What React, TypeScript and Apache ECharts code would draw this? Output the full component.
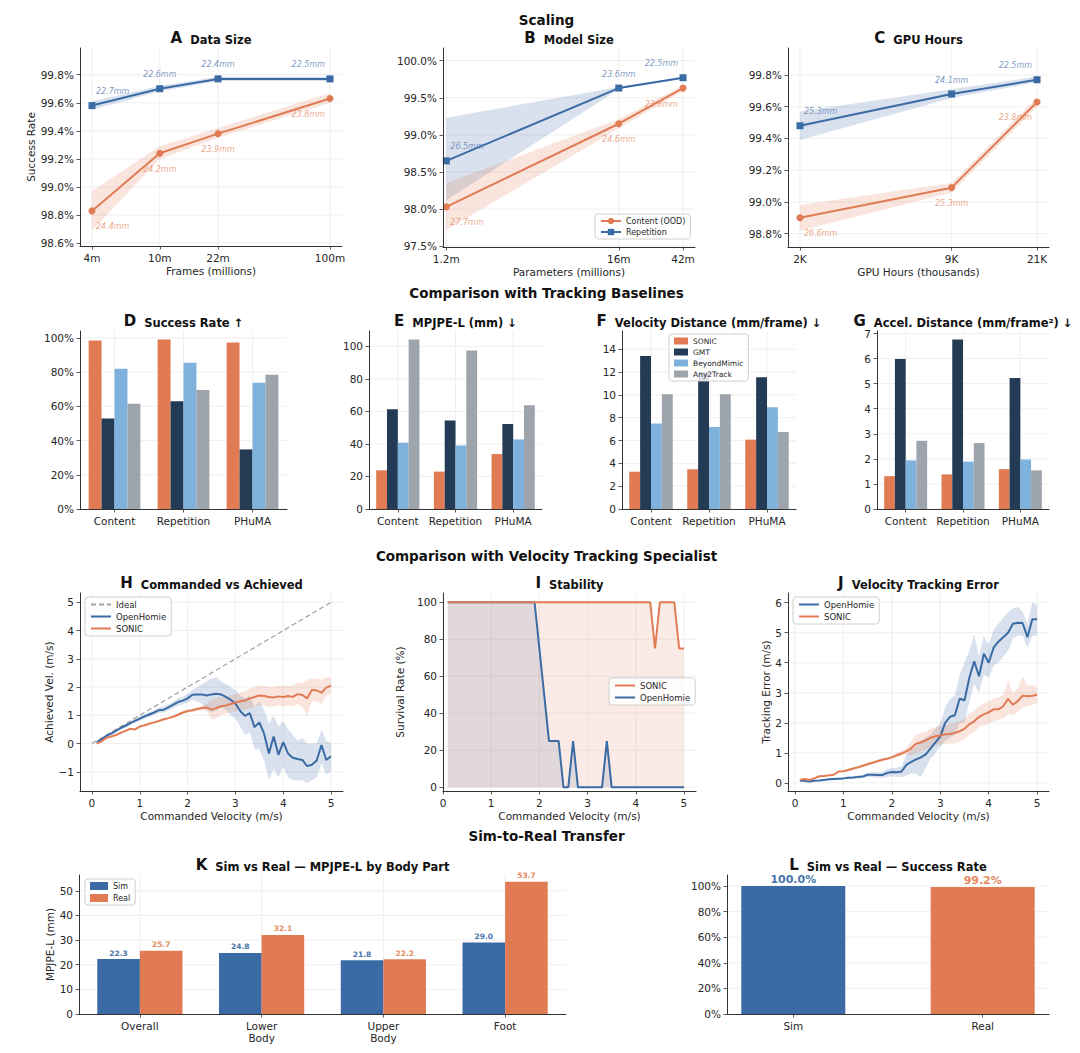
import React, { useEffect, useRef } from "react";
import * as echarts from "echarts";

// ---------- DATA ----------
// Panel A: data size
const A_FRAMES = [4, 10, 22, 100];
const A_LABELS = ["4m", "10m", "22m", "100m"];
const A_REP = [99.58, 99.7, 99.77, 99.77];
const A_REP_LO = [99.55, 99.68, 99.755, 99.755];
const A_REP_HI = [99.61, 99.72, 99.785, 99.785];
const A_REP_MM = ["22.7mm", "22.6mm", "22.4mm", "22.5mm"];
const A_CON = [98.83, 99.24, 99.38, 99.63];
const A_CON_LO = [98.69, 99.2, 99.35, 99.6];
const A_CON_HI = [98.97, 99.29, 99.42, 99.67];
const A_CON_MM = ["24.4mm", "24.2mm", "23.9mm", "23.8mm"];
const A_YTICKS = [98.6, 98.8, 99.0, 99.2, 99.4, 99.6, 99.8];

// Panel B: model size
const B_PARAMS = [1.2, 16, 42];
const B_LABELS = ["1.2m", "16m", "42m"];
const B_REP = [98.65, 99.63, 99.77];
const B_REP_LO = [98.12, 99.615, 99.76];
const B_REP_HI = [99.23, 99.645, 99.78];
const B_REP_MM = ["26.5mm", "23.6mm", "22.5mm"];
const B_CON = [98.03, 99.15, 99.63];
const B_CON_LO = [97.72, 99.09, 99.59];
const B_CON_HI = [98.35, 99.21, 99.67];
const B_CON_MM = ["27.7mm", "24.6mm", "23.8mm"];
const B_YTICKS = [97.5, 98.0, 98.5, 99.0, 99.5, 100.0];

// Panel C: GPU hours
const C_GPU = [2, 9, 21];
const C_LABELS = ["2K", "9K", "21K"];
const C_REP = [99.48, 99.68, 99.77];
const C_REP_LO = [99.39, 99.655, 99.755];
const C_REP_HI = [99.57, 99.71, 99.79];
const C_REP_MM = ["25.3mm", "24.1mm", "22.5mm"];
const C_CON = [98.9, 99.09, 99.63];
const C_CON_LO = [98.82, 99.06, 99.6];
const C_CON_HI = [98.98, 99.12, 99.66];
const C_CON_MM = ["26.6mm", "25.3mm", "23.8mm"];
const C_YTICKS = [98.8, 99.0, 99.2, 99.4, 99.6, 99.8];

// Tracking baselines
const METHODS = ["SONIC", "GMT", "BeyondMimic", "Any2Track"];
const BENCH = ["Content", "Repetition", "PHuMA"];
const D_SONIC = [98.4, 99.0, 97.3];
const D_GMT = [52.9, 63.0, 34.8];
const D_BM = [81.9, 85.4, 73.7];
const D_A2T = [61.5, 69.5, 78.4];
const D_TICKS = [0, 20, 40, 60, 80, 100];
const E_SONIC = [23.8, 23.0, 33.8];
const E_GMT = [61.3, 54.5, 52.3];
const E_BM = [40.8, 39.1, 42.8];
const E_A2T = [104.3, 97.5, 63.9];
const E_TICKS = [0, 20, 40, 60, 80, 100];
const F_SONIC = [3.27, 3.48, 6.08];
const F_GMT = [13.4, 12.0, 11.55];
const F_BM = [7.5, 7.19, 8.92];
const F_A2T = [10.05, 10.06, 6.75];
const F_TICKS = [0, 2, 4, 6, 8, 10, 12, 14];
const G_SONIC = [1.31, 1.38, 1.59];
const G_GMT = [5.98, 6.76, 5.23];
const G_BM = [1.94, 1.89, 1.97];
const G_A2T = [2.72, 2.63, 1.54];
const G_TICKS = [0, 1, 2, 3, 4, 5, 6, 7];

// Velocity tracking
const VEL_X = [0.1, 0.2, 0.3, 0.4, 0.5, 0.6, 0.7, 0.8, 0.9, 1.0, 1.1, 1.2, 1.3, 1.4, 1.5, 1.6, 1.7, 1.8, 1.9, 2.0, 2.1, 2.2, 2.3, 2.4, 2.5, 2.6, 2.7, 2.8, 2.9, 3.0, 3.1, 3.2, 3.3, 3.4, 3.5, 3.6, 3.7, 3.8, 3.9, 4.0, 4.1, 4.2, 4.3, 4.4, 4.5, 4.6, 4.7, 4.8, 4.9, 5.0];
const VEL_TICKS = [0, 1, 2, 3, 4, 5];
const IDEAL_X = [0, 5];
const IDEAL_Y = [0, 5];
const H_OPEN = [0.05, 0.15, 0.27, 0.35, 0.45, 0.55, 0.63, 0.72, 0.8, 0.88, 0.96, 1.03, 1.1, 1.18, 1.2, 1.28, 1.38, 1.47, 1.52, 1.6, 1.73, 1.74, 1.74, 1.7, 1.74, 1.76, 1.74, 1.65, 1.55, 1.42, 1.15, 0.98, 1.08, 0.58, 0.75, 0.35, -0.35, 0.25, -0.4, 0.05, -0.35, -0.5, -0.55, -0.58, -0.8, -0.75, -0.6, -0.05, -0.58, -0.45];
const H_OPEN_LO = [0.02, 0.11, 0.22, 0.3, 0.4, 0.49, 0.57, 0.66, 0.73, 0.81, 0.88, 0.95, 1.01, 1.08, 1.1, 1.17, 1.26, 1.34, 1.38, 1.45, 1.55, 1.5, 1.4, 1.2, 1.1, 1.2, 1.3, 1.2, 1.0, 0.9, 0.6, 0.3, 0.4, -0.2, -0.2, -0.6, -1.3, -0.9, -1.2, -0.8, -1.2, -1.3, -1.3, -1.3, -1.4, -1.3, -1.2, -0.7, -1.1, -1.0];
const H_OPEN_HI = [0.08, 0.19, 0.32, 0.4, 0.5, 0.61, 0.69, 0.78, 0.87, 0.95, 1.04, 1.11, 1.19, 1.28, 1.3, 1.39, 1.5, 1.6, 1.66, 1.75, 1.9, 2.0, 2.1, 2.2, 2.3, 2.35, 2.2, 2.1, 2.0, 1.9, 1.7, 1.6, 1.7, 1.3, 1.5, 1.2, 0.7, 1.0, 0.6, 0.8, 0.5, 0.3, 0.1, 0.2, 0.0, 0.0, 0.0, 0.5, 0.1, 0.0];
const H_SONIC = [0.0, 0.08, 0.2, 0.25, 0.3, 0.38, 0.45, 0.52, 0.5, 0.6, 0.65, 0.7, 0.75, 0.8, 0.86, 0.9, 0.95, 1.02, 1.1, 1.15, 1.18, 1.22, 1.26, 1.28, 1.2, 1.25, 1.32, 1.35, 1.4, 1.45, 1.5, 1.52, 1.6, 1.65, 1.7, 1.68, 1.65, 1.63, 1.67, 1.65, 1.68, 1.65, 1.75, 1.72, 1.6, 1.9, 1.88, 1.8, 1.98, 2.05];
const H_SONIC_LO = [-0.03, 0.05, 0.17, 0.22, 0.27, 0.35, 0.42, 0.49, 0.47, 0.57, 0.62, 0.67, 0.72, 0.77, 0.82, 0.86, 0.91, 0.98, 1.05, 1.1, 1.12, 1.15, 1.18, 1.15, 0.85, 0.9, 1.0, 1.05, 1.1, 1.15, 1.2, 1.2, 1.25, 1.3, 1.35, 1.35, 1.3, 1.3, 1.35, 1.3, 1.35, 1.3, 1.4, 1.3, 1.0, 1.5, 1.5, 1.4, 1.7, 1.75];
const H_SONIC_HI = [0.03, 0.11, 0.23, 0.28, 0.33, 0.41, 0.48, 0.55, 0.53, 0.63, 0.68, 0.73, 0.78, 0.83, 0.9, 0.94, 0.99, 1.06, 1.15, 1.2, 1.24, 1.29, 1.34, 1.4, 1.55, 1.6, 1.65, 1.65, 1.7, 1.75, 1.8, 1.85, 1.95, 2.0, 2.05, 2.05, 2.0, 2.0, 2.05, 2.05, 2.05, 2.05, 2.15, 2.15, 2.25, 2.3, 2.3, 2.25, 2.35, 2.35];
const H_YTICKS = [-1, 0, 1, 2, 3, 4, 5];

const I_OPEN = [100, 100, 100, 100, 100, 100, 100, 100, 100, 100, 100, 100, 100, 100, 100, 100, 100, 100, 100, 75, 50, 25, 25, 25, 0, 0, 25, 0, 0, 0, 0, 0, 0, 25, 0, 0, 0, 0, 0, 0, 0, 0, 0, 0, 0, 0, 0, 0, 0, 0];
const I_SONIC = [100, 100, 100, 100, 100, 100, 100, 100, 100, 100, 100, 100, 100, 100, 100, 100, 100, 100, 100, 100, 100, 100, 100, 100, 100, 100, 100, 100, 100, 100, 100, 100, 100, 100, 100, 100, 100, 100, 100, 100, 100, 100, 100, 75, 100, 100, 100, 100, 75, 75];
const I_YTICKS = [0, 20, 40, 60, 80, 100];

const J_OPEN = [0.08, 0.06, 0.05, 0.07, 0.08, 0.1, 0.12, 0.13, 0.14, 0.15, 0.17, 0.18, 0.2, 0.21, 0.27, 0.27, 0.26, 0.26, 0.33, 0.36, 0.35, 0.38, 0.6, 0.7, 0.78, 0.85, 0.95, 1.15, 1.35, 1.55, 2.0, 2.2, 2.25, 2.8, 2.75, 3.5, 4.05, 3.55, 4.3, 4.0, 4.5, 4.7, 4.85, 5.0, 5.3, 5.33, 5.32, 4.85, 5.45, 5.45];
const J_OPEN_LO = [0.06, 0.04, 0.03, 0.05, 0.06, 0.08, 0.09, 0.1, 0.11, 0.12, 0.13, 0.14, 0.15, 0.16, 0.2, 0.19, 0.17, 0.16, 0.2, 0.22, 0.2, 0.2, 0.25, 0.3, 0.3, 0.2, 0.5, 0.8, 1.0, 1.2, 1.4, 1.5, 1.6, 2.0, 2.0, 2.7, 3.3, 3.0, 3.6, 3.5, 3.9, 4.0, 4.2, 4.4, 4.8, 4.9, 4.9, 4.5, 4.9, 4.9];
const J_OPEN_HI = [0.1, 0.08, 0.07, 0.09, 0.1, 0.12, 0.15, 0.16, 0.17, 0.18, 0.21, 0.22, 0.25, 0.26, 0.34, 0.35, 0.35, 0.36, 0.46, 0.5, 0.5, 0.56, 0.95, 1.1, 1.2, 1.4, 1.5, 1.6, 1.8, 2.0, 2.5, 2.8, 2.9, 3.6, 4.0, 4.4, 4.95, 4.2, 4.9, 4.6, 5.1, 5.3, 5.5, 5.7, 5.8, 5.85, 5.7, 5.3, 6.0, 5.9];
const J_SONIC = [0.1, 0.13, 0.1, 0.15, 0.22, 0.23, 0.25, 0.27, 0.38, 0.39, 0.43, 0.48, 0.52, 0.57, 0.62, 0.67, 0.72, 0.77, 0.8, 0.85, 0.92, 0.98, 1.05, 1.15, 1.3, 1.35, 1.42, 1.5, 1.55, 1.58, 1.62, 1.63, 1.66, 1.72, 1.8, 1.95, 2.05, 2.2, 2.28, 2.35, 2.45, 2.45, 2.55, 2.8, 2.6, 2.72, 2.9, 2.88, 2.9, 2.93];
const J_SONIC_LO = [0.07, 0.1, 0.07, 0.12, 0.19, 0.2, 0.22, 0.24, 0.35, 0.36, 0.39, 0.44, 0.48, 0.52, 0.57, 0.62, 0.67, 0.72, 0.75, 0.8, 0.84, 0.9, 0.95, 0.9, 1.0, 1.05, 1.1, 1.2, 1.25, 1.28, 1.3, 1.3, 1.32, 1.38, 1.45, 1.6, 1.7, 1.85, 1.9, 1.98, 2.05, 2.1, 2.15, 2.3, 2.25, 2.35, 2.5, 2.55, 2.6, 2.65];
const J_SONIC_HI = [0.13, 0.16, 0.13, 0.18, 0.25, 0.26, 0.28, 0.3, 0.41, 0.42, 0.47, 0.52, 0.56, 0.62, 0.67, 0.72, 0.77, 0.82, 0.85, 0.9, 1.0, 1.06, 1.15, 1.4, 1.6, 1.65, 1.72, 1.8, 1.85, 1.88, 1.92, 1.95, 2.0, 2.05, 2.15, 2.3, 2.4, 2.55, 2.65, 2.7, 2.8, 2.85, 2.95, 3.4, 3.0, 3.15, 3.55, 3.25, 3.25, 3.2];
const J_YTICKS = [0, 1, 2, 3, 4, 5, 6];

// Sim-to-real
const K_PARTS = ["Overall", "Lower\nBody", "Upper\nBody", "Foot"];
const K_SIM = [22.3, 24.8, 21.8, 29.0];
const K_REAL = [25.7, 32.1, 22.2, 53.7];
const K_TICKS = [0, 10, 20, 30, 40, 50];
const L_GROUPS = ["Sim", "Real"];
const L_POS = [0, 1];
const L_RATE = [100.0, 99.2];
const L_TICKS = [0, 20, 40, 60, 80, 100];

// ---------- STYLE / LAYOUT ----------
const FONT = '"DejaVu Sans", sans-serif';
const TXT = "#262626";
const AXIS = "#333333";
const GRIDC = "#ebebeb";
const BLUE = "#3B6BA5";
const ORANGE = "#E07B54";
const BLUE_TXT = "#5A7DB0";
const ORANGE_TXT = "#E8906B";
const BAR_COLORS = ["#E07B54", "#243B55", "#7EB2DD", "#9DA4AC"];

const GRIDS = [
  { left: 80, top: 48, width: 262, height: 198 },
  { left: 443, top: 48, width: 252, height: 199 },
  { left: 788, top: 48, width: 261, height: 199 },
  { left: 80, top: 331, width: 207, height: 178 },
  { left: 369, top: 331, width: 173, height: 178 },
  { left: 622, top: 331, width: 174, height: 178 },
  { left: 877, top: 331, width: 172, height: 178 },
  { left: 80, top: 593, width: 263, height: 198 },
  { left: 443, top: 593, width: 253, height: 198 },
  { left: 788, top: 593, width: 261, height: 198 },
  { left: 79, top: 875, width: 487, height: 139 },
  { left: 727, top: 875, width: 322, height: 139 },
];

const TITLES: [string, string, number, number][] = [
  ["A", "Data Size", 211, 38],
  ["B", "Model Size", 569, 38],
  ["C", "GPU Hours", 918.5, 38],
  ["D", "Success Rate ↑", 183.5, 321],
  ["E", "MPJPE-L (mm) ↓", 455.5, 321],
  ["F", "Velocity Distance (mm/frame) ↓", 709, 321],
  ["G", "Accel. Distance (mm/frame²) ↓", 963, 321],
  ["H", "Commanded vs Achieved", 211.5, 583],
  ["I", "Stability", 569.5, 583],
  ["J", "Velocity Tracking Error", 918.5, 583],
  ["K", "Sim vs Real — MPJPE-L by Body Part", 322.5, 865],
  ["L", "Sim vs Real — Success Rate", 888, 865],
];
const SUPTITLES: [string, number][] = [
  ["Scaling", 20],
  ["Comparison with Tracking Baselines", 293],
  ["Comparison with Velocity Tracking Specialist", 556],
  ["Sim-to-Real Transfer", 836],
];

// ---------- HELPERS ----------
const axisLine = { show: true, onZero: false, lineStyle: { color: AXIS, width: 1 } };
const labelStyle = { fontSize: 10.5, color: TXT, fontFamily: FONT };
const nameStyle = { fontSize: 10.5, color: TXT, fontFamily: FONT };

function valueAxis(gi: number, min: number, max: number, ticks: number[], fmt: (v: number) => string, extra: any = {}) {
  return {
    type: "value",
    gridIndex: gi,
    min,
    max,
    z: 10,
    axisLine,
    axisTick: { show: true, length: 3.5, customValues: ticks, lineStyle: { color: AXIS, width: 0.8 } },
    axisLabel: { ...labelStyle, customValues: ticks, formatter: fmt, margin: 6 },
    splitLine: { show: false },
    nameTextStyle: nameStyle,
    nameLocation: "middle",
    ...extra,
  };
}

function catAxis(gi: number, cats: string[], extra: any = {}) {
  return {
    type: "category",
    gridIndex: gi,
    data: cats,
    z: 10,
    axisLine,
    axisTick: { show: true, length: 3.5, alignWithLabel: true, lineStyle: { color: AXIS, width: 0.8 } },
    axisLabel: { ...labelStyle, interval: 0, margin: 6, lineHeight: 12 },
    splitLine: { show: false },
    ...extra,
  };
}

function gridLines(gi: number, xVals: number[], yVals: number[], xRef: number, yRef: number, yMin: number) {
  return {
    type: "custom",
    name: "grid" + gi,
    xAxisIndex: gi,
    yAxisIndex: gi,
    z: 0,
    silent: true,
    data: [[xRef, yRef]],
    renderItem: (params: any, api: any) => {
      const cs = params.coordSys;
      const children: any[] = [];
      yVals.forEach((v) => {
        if (v <= yMin) return;
        const p = api.coord([xRef, v]);
        children.push({ type: "line", shape: { x1: cs.x, y1: p[1], x2: cs.x + cs.width, y2: p[1] }, style: { stroke: GRIDC, lineWidth: 0.8 } });
      });
      xVals.forEach((v) => {
        const p = api.coord([v, yRef]);
        children.push({ type: "line", shape: { x1: p[0], y1: cs.y, x2: p[0], y2: cs.y + cs.height }, style: { stroke: GRIDC, lineWidth: 0.8 } });
      });
      return { type: "group", children };
    },
  };
}

function band(gi: number, xs: number[], lo: number[], hi: number[], color: string, opacity: number, name: string) {
  return {
    type: "custom",
    name,
    xAxisIndex: gi,
    yAxisIndex: gi,
    z: 1,
    silent: true,
    data: [[xs[0], lo[0]]],
    renderItem: (_params: any, api: any) => {
      const pts: number[][] = [];
      for (let i = 0; i < xs.length; i++) pts.push(api.coord([xs[i], hi[i]]));
      for (let i = xs.length - 1; i >= 0; i--) pts.push(api.coord([xs[i], lo[i]]));
      return { type: "polygon", shape: { points: pts }, style: { fill: color, opacity } };
    },
  };
}

function mmLabels(gi: number, xs: number[], ys: number[], texts: string[], color: string, above: boolean, name: string) {
  const n = xs.length;
  return {
    type: "scatter",
    name,
    xAxisIndex: gi,
    yAxisIndex: gi,
    symbolSize: 1,
    silent: true,
    z: 5,
    itemStyle: { color: "rgba(0,0,0,0)" },
    label: { show: true, color, fontSize: 8, fontStyle: "italic", fontFamily: FONT, verticalAlign: "middle" },
    data: xs.map((x, i) => ({
      value: [x, ys[i]],
      label: {
        show: true,
        position: "inside",
        formatter: texts[i],
        align: i === 0 ? "left" : i === n - 1 ? "right" : "center",
        offset: [i === 0 ? 4 : i === n - 1 ? -5 : 0, above ? -14 : 16],
      },
    })),
  };
}

function scalingSeries(gi: number, xs: number[], rep: number[], repLo: number[], repHi: number[], repMm: string[], con: number[], conLo: number[], conHi: number[], conMm: string[]) {
  return [
    band(gi, xs, repLo, repHi, BLUE, 0.2, "bandRep" + gi),
    band(gi, xs, conLo, conHi, ORANGE, 0.2, "bandCon" + gi),
    {
      type: "line",
      name: "Content (OOD)",
      xAxisIndex: gi,
      yAxisIndex: gi,
      z: 3,
      data: xs.map((x, i) => [x, con[i]]),
      symbol: "circle",
      symbolSize: 7,
      showSymbol: true,
      lineStyle: { color: ORANGE, width: 2 },
      itemStyle: { color: ORANGE },
    },
    {
      type: "line",
      name: "Repetition",
      xAxisIndex: gi,
      yAxisIndex: gi,
      z: 3,
      data: xs.map((x, i) => [x, rep[i]]),
      symbol: "rect",
      symbolSize: 7,
      showSymbol: true,
      lineStyle: { color: BLUE, width: 2 },
      itemStyle: { color: BLUE },
    },
    mmLabels(gi, xs, rep, repMm, BLUE_TXT, true, "lblRep" + gi),
    mmLabels(gi, xs, con, conMm, ORANGE_TXT, false, "lblCon" + gi),
  ];
}

function barSeries(gi: number, arrays: number[][]) {
  return arrays.map((arr, i) => ({
    type: "bar",
    name: METHODS[i],
    xAxisIndex: gi,
    yAxisIndex: gi,
    z: 2,
    data: arr,
    barGap: "0%",
    barCategoryGap: "25%",
    itemStyle: { color: BAR_COLORS[i] },
  }));
}

const legendBase = {
  orient: "vertical",
  selectedMode: false,
  backgroundColor: "rgba(255,255,255,0.85)",
  borderColor: "#d0d0d0",
  borderWidth: 1,
  borderRadius: 3,
  padding: [3, 5],
  itemGap: 3,
  itemWidth: 20,
  itemHeight: 8,
  textStyle: { fontSize: 8, color: TXT, fontFamily: FONT },
};

const lineOnlyLegend = {
  ...legendBase,
  itemStyle: { opacity: 0 },
  textStyle: { fontSize: 8.5, color: TXT, fontFamily: FONT },
};

function velLine(gi: number, name: string, ys: number[], color: string, area: boolean) {
  return {
    type: "line",
    name,
    xAxisIndex: gi,
    yAxisIndex: gi,
    z: 3,
    data: VEL_X.map((x, i) => [x, ys[i]]),
    symbol: "none",
    showSymbol: false,
    lineStyle: { color, width: 2 },
    itemStyle: { color },
    ...(area ? { areaStyle: { color, opacity: 0.15, origin: "auto" } } : {}),
  };
}

function buildOption() {
  const lg = Math.log10;
  const aX = A_FRAMES.map(lg);
  const bX = B_PARAMS.map(lg);
  const cX = C_GPU.map(lg);
  const pct1 = (v: number) => v.toFixed(1) + "%";
  const pct0 = (v: number) => Math.round(v) + "%";
  const num = (v: number) => String(Math.round(v));
  const logFmt = (xs: number[], labels: string[]) => (v: number) => {
    const i = xs.findIndex((x) => Math.abs(x - v) < 1e-6);
    return i >= 0 ? labels[i] : "";
  };

  const xAxis: any[] = [
    valueAxis(0, aX[0] - 0.0705, aX[3] + 0.0705, aX, logFmt(aX, A_LABELS), { name: "Frames (millions)", nameGap: 19 }),
    valueAxis(1, bX[0] - 0.0215, bX[2] + 0.078, bX, logFmt(bX, B_LABELS), { name: "Parameters (millions)", nameGap: 19 }),
    valueAxis(2, cX[0] - 0.0515, cX[2] + 0.0515, cX, logFmt(cX, C_LABELS), { name: "GPU Hours (thousands)", nameGap: 19 }),
    catAxis(3, BENCH),
    catAxis(4, BENCH),
    catAxis(5, BENCH),
    catAxis(6, BENCH),
    valueAxis(7, -0.25, 5.25, VEL_TICKS, num, { name: "Commanded Velocity (m/s)", nameGap: 19 }),
    valueAxis(8, 0, 5.25, VEL_TICKS, num, { name: "Commanded Velocity (m/s)", nameGap: 19 }),
    valueAxis(9, -0.145, 5.245, VEL_TICKS, num, { name: "Commanded Velocity (m/s)", nameGap: 19 }),
    catAxis(10, K_PARTS),
    valueAxis(11, -0.35, 1.35, L_POS, (v: number) => L_GROUPS[Math.round(v)] ?? ""),
  ];
  const yAxis: any[] = [
    valueAxis(0, 98.58, 99.99, A_YTICKS, pct1, { name: "Success Rate", nameGap: 43 }),
    valueAxis(1, 97.49, 100.17, B_YTICKS, pct1),
    valueAxis(2, 98.716, 99.97, C_YTICKS, pct1),
    valueAxis(3, 0, 104, D_TICKS, pct0),
    valueAxis(4, 0, 109.5, E_TICKS, num),
    valueAxis(5, 0, 15.6, F_TICKS, num),
    valueAxis(6, 0, 7.1, G_TICKS, num),
    valueAxis(7, -1.68, 5.33, H_YTICKS, (v: number) => (v < 0 ? "\u2212" + Math.abs(v) : String(v)), { name: "Achieved Vel. (m/s)", nameGap: 24 }),
    valueAxis(8, -2, 105, I_YTICKS, num, { name: "Survival Rate (%)", nameGap: 38 }),
    valueAxis(9, -0.27, 6.32, J_YTICKS, num, { name: "Tracking Error (m/s)", nameGap: 17 }),
    valueAxis(10, 0, 56.4, K_TICKS, num, { name: "MPJPE-L (mm)", nameGap: 23 }),
    valueAxis(11, 0, 108.6, L_TICKS, pct0),
  ];

  const series: any[] = [
    // H first so legends find line series by name
    {
      type: "line",
      name: "Ideal",
      xAxisIndex: 7,
      yAxisIndex: 7,
      z: 3,
      data: IDEAL_X.map((x, i) => [x, IDEAL_Y[i]]),
      symbol: "none",
      lineStyle: { color: "#a0a0a0", width: 1.2, type: [5, 3] },
      itemStyle: { color: "#a0a0a0" },
    },
    velLine(7, "OpenHomie", H_OPEN, BLUE, false),
    velLine(7, "SONIC", H_SONIC, ORANGE, false),
    band(7, VEL_X, H_OPEN_LO, H_OPEN_HI, BLUE, 0.2, "bandH1"),
    band(7, VEL_X, H_SONIC_LO, H_SONIC_HI, ORANGE, 0.2, "bandH2"),
    gridLines(7, VEL_TICKS, H_YTICKS, 0, 0, -1.68),
    // I
    gridLines(8, VEL_TICKS, I_YTICKS, 1, 50, -2),
    velLine(8, "OpenHomie", I_OPEN, BLUE, true),
    velLine(8, "SONIC", I_SONIC, ORANGE, true),
    // J
    gridLines(9, VEL_TICKS, J_YTICKS, 1, 1, -0.27),
    band(9, VEL_X, J_OPEN_LO, J_OPEN_HI, BLUE, 0.2, "bandJ1"),
    band(9, VEL_X, J_SONIC_LO, J_SONIC_HI, ORANGE, 0.2, "bandJ2"),
    velLine(9, "OpenHomie", J_OPEN, BLUE, false),
    velLine(9, "SONIC", J_SONIC, ORANGE, false),
    // Scaling
    gridLines(0, aX, A_YTICKS, aX[0], 99.0, 98.58),
    ...scalingSeries(0, aX, A_REP, A_REP_LO, A_REP_HI, A_REP_MM, A_CON, A_CON_LO, A_CON_HI, A_CON_MM),
    gridLines(1, bX, B_YTICKS, bX[0], 99.0, 97.49),
    ...scalingSeries(1, bX, B_REP, B_REP_LO, B_REP_HI, B_REP_MM, B_CON, B_CON_LO, B_CON_HI, B_CON_MM),
    gridLines(2, cX, C_YTICKS, cX[0], 99.0, 98.716),
    ...scalingSeries(2, cX, C_REP, C_REP_LO, C_REP_HI, C_REP_MM, C_CON, C_CON_LO, C_CON_HI, C_CON_MM),
    // Bars
    gridLines(3, [0, 1, 2], D_TICKS, 0, 50, 0),
    ...barSeries(3, [D_SONIC, D_GMT, D_BM, D_A2T]),
    gridLines(4, [0, 1, 2], E_TICKS, 0, 50, 0),
    ...barSeries(4, [E_SONIC, E_GMT, E_BM, E_A2T]),
    gridLines(5, [0, 1, 2], F_TICKS, 0, 5, 0),
    ...barSeries(5, [F_SONIC, F_GMT, F_BM, F_A2T]),
    gridLines(6, [0, 1, 2], G_TICKS, 0, 3, 0),
    ...barSeries(6, [G_SONIC, G_GMT, G_BM, G_A2T]),
    // K
    gridLines(10, [0, 1, 2, 3], K_TICKS, 0, 20, 0),
    {
      type: "bar",
      name: "Sim",
      xAxisIndex: 10,
      yAxisIndex: 10,
      z: 2,
      data: K_SIM,
      barGap: "0%",
      barCategoryGap: "30%",
      itemStyle: { color: BLUE },
      label: { show: true, position: "top", distance: 2, fontSize: 7.5, fontWeight: "bold", color: "#4A75AD", fontFamily: FONT, formatter: (p: any) => p.value.toFixed(1) },
    },
    {
      type: "bar",
      name: "Real",
      xAxisIndex: 10,
      yAxisIndex: 10,
      z: 2,
      data: K_REAL,
      barGap: "0%",
      barCategoryGap: "30%",
      itemStyle: { color: ORANGE },
      label: { show: true, position: "top", distance: 2, fontSize: 7.5, fontWeight: "bold", color: "#E58A62", fontFamily: FONT, formatter: (p: any) => p.value.toFixed(1) },
    },
    // L
    gridLines(11, L_POS, L_TICKS, 0, 50, 0),
    {
      type: "bar",
      name: "SimRealRate",
      xAxisIndex: 11,
      yAxisIndex: 11,
      z: 2,
      barWidth: 104,
      data: L_POS.map((x, i) => ({
        value: [x, L_RATE[i]],
        itemStyle: { color: i === 0 ? BLUE : ORANGE },
        label: { color: i === 0 ? "#4A75AD" : "#E58A62" },
      })),
      label: { show: true, position: "top", distance: 1, fontSize: 11, fontWeight: "bold", fontFamily: FONT, formatter: (p: any) => p.value[1].toFixed(1) + "%" },
    },
  ];

  const legend: any[] = [
    { ...legendBase, left: 595, top: 214, data: ["Content (OOD)", "Repetition"] },
    {
      ...legendBase,
      left: 669,
      top: 334,
      itemWidth: 14,
      itemHeight: 7,
      itemGap: 3,
      textStyle: { fontSize: 7.5, color: TXT, fontFamily: FONT },
      data: METHODS.map((m, i) => ({ name: m, icon: "rect", itemStyle: { color: BAR_COLORS[i], borderWidth: 0, opacity: 1 } })),
    },
    { ...lineOnlyLegend, left: 85, top: 597, data: ["Ideal", "OpenHomie", "SONIC"] },
    { ...lineOnlyLegend, left: 609, top: 678, data: ["SONIC", "OpenHomie"] },
    { ...lineOnlyLegend, left: 793, top: 597, data: ["OpenHomie", "SONIC"] },
    {
      ...legendBase,
      left: 85,
      top: 879,
      itemWidth: 18,
      itemHeight: 8,
      itemGap: 4,
      data: [
        { name: "Sim", icon: "rect" },
        { name: "Real", icon: "rect" },
      ],
    },
  ];

  const elements: any[] = [];
  SUPTITLES.forEach(([t, y]) => {
    elements.push({
      type: "text",
      x: 546.5,
      y,
      style: { text: t, font: `bold 13.5px ${FONT}`, fill: "#111", align: "center", verticalAlign: "middle" },
    });
  });
  TITLES.forEach(([l, t, x, y]) => {
    elements.push({
      type: "text",
      x,
      y,
      style: {
        text: `{l|${l}}{t|  ${t}}`,
        align: "center",
        verticalAlign: "middle",
        rich: {
          l: { fontSize: 15, fontWeight: "bold", fontFamily: FONT, fill: "#111", verticalAlign: "bottom" },
          t: { fontSize: 11.5, fontWeight: "bold", fontFamily: FONT, fill: "#111", verticalAlign: "bottom" },
        },
      },
    });
  });

  return {
    animation: false,
    backgroundColor: "#ffffff",
    textStyle: { fontFamily: FONT },
    grid: GRIDS.map((g) => ({ ...g, containLabel: false })),
    xAxis,
    yAxis,
    series,
    legend,
    graphic: { elements },
  };
}

export default function App() {
  const ref = useRef<HTMLDivElement>(null);
  useEffect(() => {
    if (!ref.current) return;
    const chart = echarts.init(ref.current, undefined, { renderer: "svg" });
    chart.setOption(buildOption() as any);
    return () => chart.dispose();
  }, []);
  return <div ref={ref} style={{ position: "absolute", left: 0, top: 0, width: 1080, height: 1053, background: "#fff" }} />;
}
